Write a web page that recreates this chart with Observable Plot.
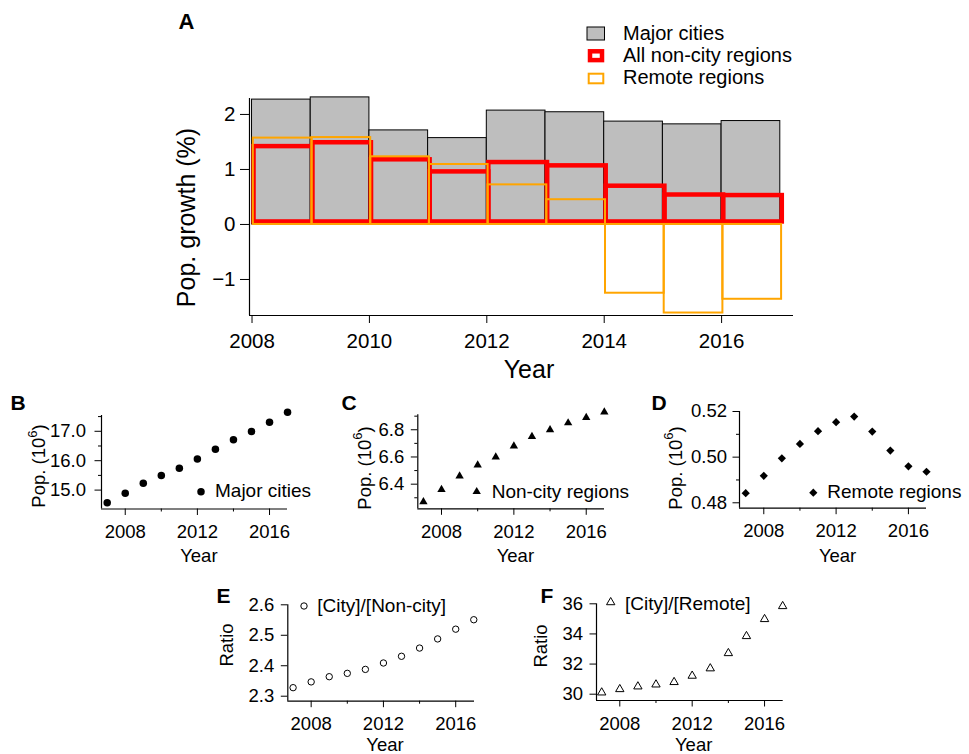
<!DOCTYPE html>
<html>
<head>
<meta charset="utf-8">
<script src="https://cdn.jsdelivr.net/npm/d3@7"></script>
<script src="https://cdn.jsdelivr.net/npm/@observablehq/plot@0.6"></script>
<style>
  body { margin: 0; background: #fff; }
  #fig { position: relative; width: 969px; height: 754px; background: #fff; overflow: hidden; }
  #fig svg { position: absolute; overflow: visible; }
</style>
</head>
<body>
<div id="fig"></div>
<script>
const FONT = '"Liberation Sans", Arial, Helvetica, sans-serif';

// ---------- Panel A: annual population growth (%) ----------
const growthYears = [2008, 2009, 2010, 2011, 2012, 2013, 2014, 2015, 2016];
const growthMajorCities = [2.27, 2.31, 1.71, 1.57, 2.07, 2.04, 1.87, 1.82, 1.88];
const growthNonCity = [1.37, 1.44, 1.13, 0.91, 1.08, 1.02, 0.65, 0.49, 0.48];
const growthRemote = [1.57, 1.58, 1.23, 1.09, 0.72, 0.45, -1.25, -1.61, -1.36];
const growthXTicks = [2008, 2010, 2012, 2014, 2016];
const growthYTicks = [-1, 0, 1, 2];
const legendA = ["Major cities", "All non-city regions", "Remote regions"];

// ---------- Panels B–F: populations and ratios ----------
const years = [2007, 2008, 2009, 2010, 2011, 2012, 2013, 2014, 2015, 2016, 2017];
const popMajorCities = [14.57, 14.89, 15.23, 15.50, 15.74, 16.06, 16.39, 16.71, 16.99, 17.31, 17.65];
const popNonCity = [6.27, 6.36, 6.46, 6.54, 6.60, 6.68, 6.75, 6.80, 6.85, 6.89, 6.93];
const popRemote = [0.4842, 0.4918, 0.4995, 0.5058, 0.5114, 0.5153, 0.5178, 0.5112, 0.5029, 0.4960, 0.4936];
const ratioCityNonCity = [2.328, 2.347, 2.364, 2.375, 2.388, 2.409, 2.431, 2.458, 2.488, 2.520, 2.551];
const ratioCityRemote = [30.11, 30.33, 30.51, 30.64, 30.80, 31.22, 31.71, 32.72, 33.85, 34.98, 35.84];
const yearMajorTicks = [2008, 2012, 2016];
const yearMinorTicks = [2010, 2014];
const popBTicks = [15, 16, 17], popBMinor = [15.5, 16.5, 17.5];
const popCTicks = [6.4, 6.6, 6.8], popCMinor = [6.3, 6.5, 6.7, 6.9];
const popDTicks = [0.48, 0.50, 0.52], popDMinor = [0.49, 0.51];
const ratioETicks = [2.3, 2.4, 2.5, 2.6];
const ratioFTicks = [30, 32, 34, 36];

const fig = document.getElementById("fig");
const minusFmt = d => (d < 0 ? "\u2212" + Math.abs(d) : String(d));

function place(svg, left, top) {
  svg.style.left = left + "px";
  svg.style.top = top + "px";
  svg.style.maxWidth = "none";
  fig.appendChild(svg);
  return d3.select(svg);
}

function addText(sel, str, x, y, opts = {}) {
  const t = sel.append("text")
    .attr("x", x).attr("y", y)
    .attr("font-family", FONT)
    .attr("font-size", opts.size || 18)
    .attr("font-weight", opts.weight || "normal")
    .attr("text-anchor", opts.anchor || "start")
    .attr("fill", "#000")
    .text(str);
  return t;
}

// ---------- Panel A ----------
const rowsA = growthYears.map((year, i) => ({
  year, end: year + 1,
  major: growthMajorCities[i], nonCity: growthNonCity[i], remote: growthRemote[i]
}));
const xDomA = [2007.957, 2017.225], yDomA = [-1.655, 2.29];

const plotA = Plot.plot({
  width: 969, height: 385,
  marginLeft: 249, marginRight: 176, marginTop: 98, marginBottom: 70,
  style: {fontFamily: FONT, fontSize: "20.5px", color: "#000", background: "none"},
  x: {domain: xDomA, label: null},
  y: {domain: yDomA, label: null},
  marks: [
    Plot.rect(rowsA, {x1: "year", x2: "end", y1: 0, y2: "major", fill: "#bebebe", stroke: "#000", strokeWidth: 1}),
    Plot.rect(rowsA, {x1: "year", x2: "end", y1: 0, y2: "nonCity", fill: "none", stroke: "#ff0000", strokeWidth: 4.5, dx: 2, dy: -2.5}),
    Plot.rect(rowsA, {x1: "year", x2: "end", y1: 0, y2: "remote", fill: "none", stroke: "#ffa500", strokeWidth: 2, dx: 1.3}),
    Plot.ruleX([xDomA[0]], {stroke: "#000", strokeWidth: 1.2}),
    Plot.ruleY([yDomA[0]], {stroke: "#000", strokeWidth: 1.2}),
    Plot.axisX({ticks: growthXTicks, tickSize: 8, tickPadding: 10, tickFormat: d => String(d), label: null}),
    Plot.axisY({ticks: growthYTicks, tickSize: 9, tickPadding: 5, tickFormat: minusFmt, label: null})
  ]
});
const A = place(plotA, 0, 0);
addText(A, "A", 178.5, 29, {size: 22, weight: "bold"});
addText(A, "Year", 529, 378, {size: 25, anchor: "middle"});
addText(A, "Pop. growth (%)", 0, 0, {size: 25, anchor: "middle"})
  .attr("transform", "translate(195,217.5) rotate(-90)");
// legend A
const legA = A.append("g");
legA.append("rect").attr("x", 587).attr("y", 27).attr("width", 17.5).attr("height", 13)
  .attr("fill", "#bebebe").attr("stroke", "#000").attr("stroke-width", 1);
legA.append("rect").attr("x", 590).attr("y", 51.3).attr("width", 12).attr("height", 8.8)
  .attr("fill", "#fff").attr("stroke", "#ff0000").attr("stroke-width", 4.5);
legA.append("rect").attr("x", 588.7).attr("y", 73.7).attr("width", 14.6).attr("height", 9.6)
  .attr("fill", "#fff").attr("stroke", "#ffa500").attr("stroke-width", 2);
legendA.forEach((s, i) => addText(legA, s, 623, 40 + i * 22, {size: 20}));

// ---------- Small panels ----------
function smallPanel(cfg) {
  const rows = years.map((year, i) => ({year, value: cfg.values[i]}));
  const marks = [
    Plot.ruleX([cfg.xDom[0]], {stroke: "#000", strokeWidth: 1.2}),
    Plot.ruleY([cfg.yDom[0]], {stroke: "#000", strokeWidth: 1.2}),
    Plot.axisX({ticks: yearMajorTicks, tickSize: 6.5, tickPadding: 9.5, tickFormat: d => String(d), label: null}),
    Plot.axisX({ticks: yearMinorTicks, tickSize: 3, tickFormat: () => "", label: null}),
    Plot.axisY({ticks: cfg.yMajor, tickSize: 6.5, tickPadding: cfg.yPad, tickFormat: cfg.yFmt, label: null})
  ];
  if (cfg.yMinor) marks.push(Plot.axisY({ticks: cfg.yMinor, tickSize: 3, tickFormat: () => "", label: null}));
  marks.push(Plot.dot(rows, {x: "year", y: "value", symbol: cfg.symbol, r: cfg.r, fill: cfg.fill, stroke: cfg.stroke, strokeWidth: 1}));
  const plot = Plot.plot({
    width: cfg.width, height: cfg.height,
    marginLeft: cfg.mL, marginRight: cfg.mR, marginTop: cfg.mT, marginBottom: cfg.mB,
    style: {fontFamily: FONT, fontSize: "18.5px", color: "#000", background: "none"},
    x: {domain: cfg.xDom, label: null},
    y: {domain: cfg.yDom, label: null},
    marks
  });
  const sel = place(plot, cfg.left, cfg.top);
  const xs = plot.scale("x");
  const xPix = v => (xs.apply ? xs.apply(v) : cfg.mL + (v - cfg.xDom[0]) / (cfg.xDom[1] - cfg.xDom[0]) * (cfg.width - cfg.mL - cfg.mR));
  // panel letter
  addText(sel, cfg.letter, cfg.letterPos[0], cfg.letterPos[1], {size: 21, weight: "bold"});
  // x title
  addText(sel, "Year", xPix(2012) + 2, cfg.yearY, {size: 18.5, anchor: "middle"});
  // y title
  const t = sel.append("text")
    .attr("transform", `translate(${cfg.yTitlePos[0]},${cfg.yTitlePos[1]}) rotate(-90)`)
    .attr("font-family", FONT).attr("font-size", 18.5).attr("text-anchor", "middle").attr("fill", "#000");
  if (cfg.sup) {
    t.append("tspan").text(cfg.yTitle);
    t.append("tspan").attr("font-size", 13).attr("dy", -8.5).text(cfg.sup);
    t.append("tspan").attr("dy", 8.5).text(")");
  } else {
    t.text(cfg.yTitle);
  }
  // legend
  const sym = d3.symbol(cfg.legendSymbol, Math.PI * cfg.r * cfg.r);
  sel.append("path").attr("d", sym())
    .attr("transform", `translate(${cfg.legendPos[0]},${cfg.legendPos[1]})`)
    .attr("fill", cfg.fill).attr("stroke", cfg.stroke).attr("stroke-width", 1);
  addText(sel, cfg.legendText, cfg.legendText0[0], cfg.legendText0[1], {size: 19});
}

// B
smallPanel({
  left: 0, top: 385, width: 330, height: 185, mL: 101, mR: 43, mT: 30, mB: 61.5,
  xDom: [2006.684, 2016.997], yDom: [14.357, 17.537],
  values: popMajorCities, yMajor: popBTicks, yMinor: popBMinor, yFmt: d3.format(".1f"), yPad: 9,
  symbol: "circle", r: 3.75, fill: "#000", stroke: "none", legendSymbol: d3.symbolCircle,
  letter: "B", letterPos: [10.5, 25], yearY: 176.7,
  yTitle: "Pop. (10", sup: "6", yTitlePos: [45, 81],
  legendPos: [201, 106.7], legendText: "Major cities", legendText0: [215, 112.3]
});
// C
smallPanel({
  left: 330, top: 385, width: 310, height: 185, mL: 87.3, mR: 36, mT: 29.3, mB: 61.7,
  xDom: [2006.69, 2017.01], yDom: [6.219, 6.91],
  values: popNonCity, yMajor: popCTicks, yMinor: popCMinor, yFmt: d3.format(".1f"), yPad: 7,
  symbol: "triangle", r: 3.1, fill: "#000", stroke: "none", legendSymbol: d3.symbolTriangle,
  letter: "C", letterPos: [11.5, 25], yearY: 176.7,
  yTitle: "Pop. (10", sup: "6", yTitlePos: [40.7, 83],
  legendPos: [146.7, 106.7], legendText: "Non-city regions", legendText0: [161.7, 113]
});
// D
smallPanel({
  left: 640, top: 385, width: 329, height: 185, mL: 99, mR: 43, mT: 26, mB: 62.3,
  xDom: [2006.657, 2017.0], yDom: [0.47763, 0.52],
  values: popRemote, yMajor: popDTicks, yMinor: popDMinor, yFmt: d3.format(".2f"), yPad: 6,
  symbol: "diamond2", r: 3.7, fill: "#000", stroke: "none", legendSymbol: d3.symbolDiamond2,
  letter: "D", letterPos: [11.5, 25], yearY: 176.7,
  yTitle: "Pop. (10", sup: "6", yTitlePos: [41.7, 83],
  legendPos: [173.3, 107.7], legendText: "Remote regions", legendText0: [187.3, 113]
});
// E
smallPanel({
  left: 200, top: 570, width: 320, height: 184, mL: 87.3, mR: 46, mT: 34.3, mB: 53.3,
  xDom: [2006.707, 2017.04], yDom: [2.2836, 2.6],
  values: ratioCityNonCity, yMajor: ratioETicks, yMinor: null, yFmt: d3.format(".1f"), yPad: 7,
  symbol: "circle", r: 3.2, fill: "#fff", stroke: "#000", legendSymbol: d3.symbolCircle,
  letter: "E", letterPos: [16.5, 33.3], yearY: 181.2,
  yTitle: "Ratio", sup: null, yTitlePos: [33, 75],
  legendPos: [104, 36], legendText: "[City]/[Non-city]", legendText0: [117.3, 41.7]
});
// F
smallPanel({
  left: 520, top: 570, width: 330, height: 184, mL: 76, mR: 67.3, mT: 33.3, mB: 54,
  xDom: [2006.713, 2017.03], yDom: [29.582, 36],
  values: ratioCityRemote, yMajor: ratioFTicks, yMinor: null, yFmt: d3.format("d"), yPad: 7,
  symbol: "triangle", r: 3.1, fill: "#fff", stroke: "#000", legendSymbol: d3.symbolTriangle,
  letter: "F", letterPos: [20.5, 33.3], yearY: 181.2,
  yTitle: "Ratio", sup: null, yTitlePos: [26.5, 76],
  legendPos: [90.7, 32.3], legendText: "[City]/[Remote]", legendText0: [105, 40]
});
</script>
</body>
</html>
